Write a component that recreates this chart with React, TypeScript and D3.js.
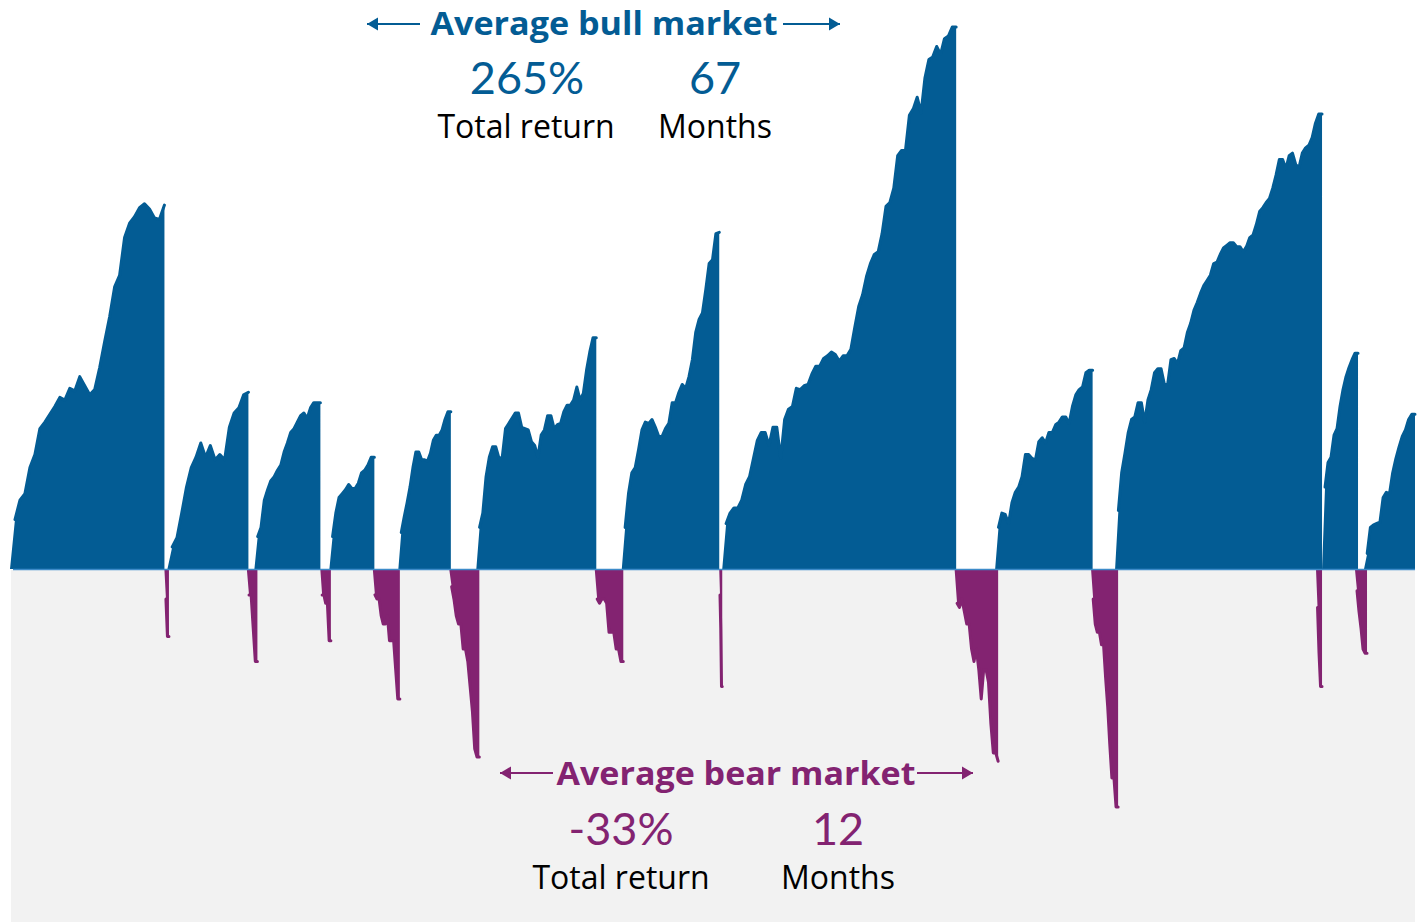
import * as d3 from 'd3';
import React from 'react';

// Bull / bear market history. x is in months from the start of the series,
// bull values are cumulative total return (%), bear values are drawdown (%).

const BLUE = '#035c94';
const PURPLE = '#832371';
const BASELINE = '#3d8bc9';
const PANEL = '#f2f2f2';

const bullSpans: [number, number][] = [
  [0, 103], [105, 159], [163, 207], [213, 243], [259, 294], [311, 391],
  [408, 473], [475, 631], [657, 722], [737, 875], [875, 899], [903, 937]
];

const bullReturns: number[][] = [
  [0, 38, 53, 58, 78, 88, 108, 113, 119, 125, 132, 130, 139, 137, 148, 141, 134, 138, 155, 175, 194, 217, 226, 255, 266, 271, 278, 281, 277, 270, 269, 280],
  [0, 17, 24, 43, 63, 78, 86, 97, 86, 95, 84, 88, 84, 109, 120, 124, 134, 136],
  [0, 25, 32, 53, 61, 68, 71, 76, 80, 90, 97, 105, 108, 113, 118, 120, 116, 124, 128, 128, 128],
  [0, 25, 43, 55, 58, 61, 65, 62, 62, 66, 74, 76, 80, 86, 86],
  [0, 28, 40, 51, 63, 78, 90, 90, 84, 84, 83, 89, 99, 103, 103, 107, 115, 121, 121],
  [0, 32, 43, 71, 86, 94, 94, 85, 86, 108, 112, 116, 120, 120, 109, 108, 107, 98, 95, 86, 103, 107, 118, 118, 108, 111, 112, 121, 126, 126, 130, 140, 130, 135, 153, 167, 178, 178],
  [0, 32, 58, 74, 78, 92, 107, 113, 112, 115, 109, 102, 102, 108, 112, 128, 128, 136, 142, 139, 148, 161, 182, 192, 197, 215, 235, 238, 258, 259],
  [0, 35, 43, 47, 47, 53, 65, 71, 85, 99, 105, 105, 95, 109, 109, 85, 115, 123, 125, 139, 138, 141, 142, 150, 156, 156, 162, 164, 167, 165, 160, 164, 164, 169, 186, 202, 211, 225, 235, 242, 244, 258, 279, 282, 293, 318, 322, 322, 349, 354, 363, 351, 378, 392, 394, 402, 396, 408, 410, 417, 417],
  [0, 32, 43, 42, 35, 51, 59, 63, 71, 88, 88, 85, 84, 98, 101, 97, 105, 105, 111, 113, 117, 117, 112, 125, 134, 138, 140, 151, 153, 153],
  [0, 45, 74, 89, 105, 115, 117, 128, 128, 113, 130, 138, 151, 154, 154, 142, 142, 161, 162, 158, 168, 170, 182, 189, 199, 205, 212, 218, 222, 226, 235, 236, 242, 247, 249, 251, 251, 248, 248, 244, 248, 255, 257, 265, 275, 278, 282, 285, 293, 303, 315, 315, 308, 318, 320, 311, 309, 320, 324, 326, 332, 343, 350, 350],
  [0, 63, 82, 86, 103, 108, 125, 138, 148, 155, 161, 166, 166],
  [0, 12, 32, 34, 35, 36, 55, 59, 58, 74, 85, 94, 102, 107, 115, 119, 119]
];

const bearSpans: [number, number][] = [
  [103, 106], [158, 165], [207, 214], [242, 260], [293, 313], [390, 409],
  [473, 475], [630, 659], [721, 739], [871, 875], [897, 905]
];

const bearDrawdowns: number[][] = [
  [0, -7, -16, -16],
  [0, -6, -6, -14, -22, -22],
  [0, -6, -6, -8, -8, -17, -17],
  [0, -6, -7, -7, -11, -13, -13, -11, -17, -17, -17, -24, -31, -31],
  [0, -4, -7, -11, -13, -13, -19, -19, -22, -28, -34, -43, -45, -45],
  [0, -7, -8, -7, -7, -8, -15, -15, -15, -19, -19, -22, -22],
  [0, -6, -14, -28, -28],
  [0, -8, -9, -7, -10, -13, -13, -19, -22, -19, -24, -31, -24, -24, -27, -37, -44, -44, -46],
  [0, -7, -13, -15, -15, -18, -18, -26, -33, -42, -50, -50, -57, -57],
  [0, -9, -20, -28, -28],
  [0, -5, -10, -14, -19, -20, -20]
];

const bullStats = ['265%', '67'];
const bearStats = ['-33%', '12'];
const statLabels = ['Total return', 'Months'];

const FONT = '"Open Sans", Lato, sans-serif';
const NUM_FONT = 'Lato, "Open Sans", sans-serif';

const toPoints = (span: [number, number], vals: number[]) =>
  vals.map((v, i) => [span[0] + (i * (span[1] - span[0])) / (vals.length - 1), v] as [number, number]);

// arrow on one side of a heading, dir = which end gets the head
const Arrow: React.FC<{ x1: number; x2: number; y: number; color: string; dir: 1 | -1 }> = ({ x1, x2, y, color, dir }) => {
  const tip = dir === 1 ? x2 : x1;
  const back = tip - dir * 11;
  return (
    <g>
      <line x1={x1} x2={x2} y1={y} y2={y} stroke={color} strokeWidth={2} />
      <polygon points={`${tip},${y} ${back},${y - 6.5} ${back},${y + 6.5}`} fill={color} />
    </g>
  );
};

const App: React.FC = () => {
  const width = 1423;
  const height = 922;

  const x = d3.scaleLinear().domain([0, 937]).range([10, 1415]);
  const yBull = d3.scaleLinear().domain([0, 417]).range([569, 27]);
  const yBear = d3.scaleLinear().domain([0, -57]).range([570, 807]);

  const bullArea = d3.area<[number, number]>().x((d) => x(d[0])).y0(yBull(0)).y1((d) => yBull(d[1]));
  const bullLine = d3.line<[number, number]>().x((d) => x(d[0])).y((d) => yBull(d[1]));
  const bearArea = d3.area<[number, number]>().x((d) => x(d[0])).y0(yBear(0)).y1((d) => yBear(d[1]));
  const bearLine = d3.line<[number, number]>().x((d) => x(d[0])).y((d) => yBear(d[1]));

  const bulls = bullReturns.map((vals, i) => toPoints(bullSpans[i], vals));
  const bears = bearDrawdowns.map((vals, i) => toPoints(bearSpans[i], vals));

  return (
    <svg width={width} height={height} style={{ display: 'block' }}>
      <style>{`body{margin:0}`}</style>
      <rect x={11} y={570} width={1404} height={height - 570} fill={PANEL} />

      {bulls.map((pts, i) => (
        <g key={`bull${i}`}>
          <path d={bullArea(pts) ?? ''} fill={BLUE} />
          <path d={bullLine(pts.slice(1)) ?? ''} fill="none" stroke={BLUE} strokeWidth={3} strokeLinejoin="round" strokeLinecap="round" />
        </g>
      ))}

      {bears.map((pts, i) => (
        <g key={`bear${i}`}>
          <path d={bearArea(pts) ?? ''} fill={PURPLE} />
          <path d={bearLine(pts.slice(1)) ?? ''} fill="none" stroke={PURPLE} strokeWidth={3} strokeLinejoin="round" strokeLinecap="round" />
        </g>
      ))}

      <line x1={13} x2={1415} y1={569.5} y2={569.5} stroke={BASELINE} strokeWidth={1.5} />

      {/* bull annotation */}
      <Arrow x1={367} x2={420} y={24} color={BLUE} dir={-1} />
      <Arrow x1={783} x2={840} y={24} color={BLUE} dir={1} />
      <text x={604} y={35} textAnchor="middle" fill={BLUE} fontFamily={FONT} fontWeight={700} fontSize={33} textLength={347} lengthAdjust="spacingAndGlyphs">
        Average bull market
      </text>
      {bullStats.map((s, i) => (
        <text key={s} x={[527, 715][i]} y={94} textAnchor="middle" fill={BLUE} fontFamily={NUM_FONT} fontSize={45}>
          {s}
        </text>
      ))}
      {statLabels.map((s, i) => (
        <text key={`bl${s}`} x={[526, 715][i]} y={138} textAnchor="middle" fill="#000" fontFamily={FONT} fontSize={32}>
          {s}
        </text>
      ))}

      {/* bear annotation */}
      <Arrow x1={500} x2={553} y={773} color={PURPLE} dir={-1} />
      <Arrow x1={917} x2={973} y={773} color={PURPLE} dir={1} />
      <text x={736} y={785} textAnchor="middle" fill={PURPLE} fontFamily={FONT} fontWeight={700} fontSize={33} textLength={359} lengthAdjust="spacingAndGlyphs">
        Average bear market
      </text>
      {bearStats.map((s, i) => (
        <text key={s} x={[621, 838][i]} y={845} textAnchor="middle" fill={PURPLE} fontFamily={NUM_FONT} fontSize={45}>
          {s}
        </text>
      ))}
      {statLabels.map((s, i) => (
        <text key={`br${s}`} x={[621, 838][i]} y={889} textAnchor="middle" fill="#000" fontFamily={FONT} fontSize={32}>
          {s}
        </text>
      ))}
    </svg>
  );
};

export default App;
